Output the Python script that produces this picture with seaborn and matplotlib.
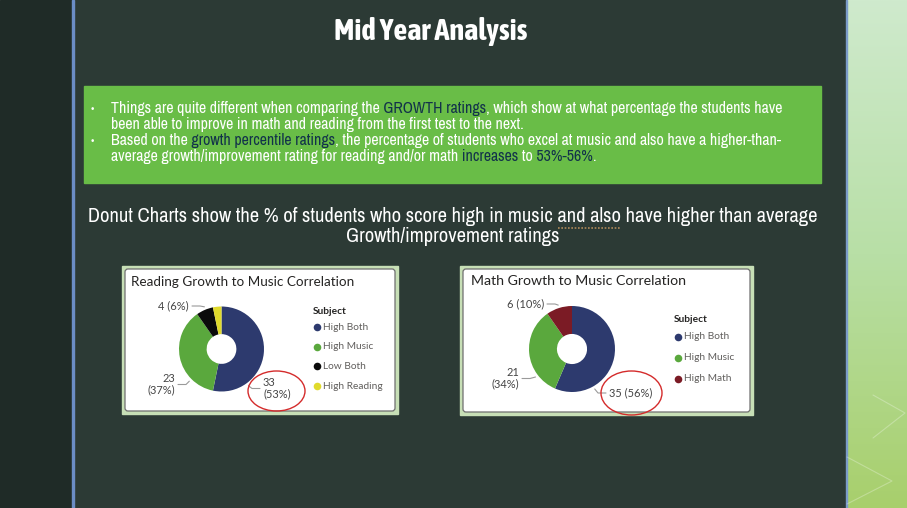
import matplotlib
matplotlib.use("Agg")
import matplotlib.pyplot as plt
import seaborn as sns
import numpy as np
from matplotlib.patches import Rectangle, FancyBboxPatch, Ellipse
from matplotlib import font_manager as fm

# ---------------- data ----------------
slide_title = "Mid Year Analysis"
bullet_lines = [
    [("Things are quite different when comparing the ", "w"), ("GROWTH ratings", "d"),
     (", which show at what percentage the students have", "w")],
    [("been able to improve in math and reading from the first test to the next.", "w")],
    [("Based on the ", "w"), ("growth percentile ratings", "d"),
     (", the percentage of students who excel at music and also have a higher-than-", "w")],
    [("average growth/improvement rating for reading and/or math ", "w"), ("increases", "d"),
     (" to ", "w"), ("53%-56%", "d"), (".", "w")],
]
bullet_marks = [True, False, True, False]
subtitle_lines = ["Donut Charts show the % of students who score high in music and also have higher than average",
                  "Growth/improvement ratings"]

reading_title = "Reading Growth to Music Correlation"
reading_labels = ["High Both", "High Music", "Low Both", "High Reading"]
reading_counts = [33, 23, 4, 2]

math_title = "Math Growth to Music Correlation"
math_labels = ["High Both", "High Music", "High Math"]
math_counts = [35, 21, 6]

legend_title = "Subject"

# ---------------- style ----------------
sns.set_theme(style="white")
names = {f.name for f in fm.fontManager.ttflist}
narrow = next((n for n in ["Liberation Sans Narrow", "Arial Narrow", "Archivo Narrow"] if n in names), None)
slide_font = ([narrow] if narrow else []) + ["Liberation Sans", "DejaVu Sans"]
bold_narrow = next((n for n in ["Liberation Sans Narrow", "Arial Narrow", "Asap Condensed"] if n in names), None)
title_font = ([bold_narrow] if bold_narrow else []) + ["Liberation Sans", "DejaVu Sans"]
panel_font = ["Lato", "DejaVu Sans"]
plt.rcParams["font.family"] = slide_font

reading_colors = sns.color_palette(["#2d3a6e", "#5aa83d", "#0b0b0b", "#e0da2c"])
math_colors = sns.color_palette(["#2d3a6e", "#5aa83d", "#7b1b25"])
TXT_W = "#ffffff"
TXT_D = "#12324a"

W, H = 907, 508
fig = plt.figure(figsize=(W / 100, H / 100), dpi=100)
bg = fig.add_axes([0, 0, 1, 1])
bg.set_xlim(0, W)
bg.set_ylim(H, 0)
bg.axis("off")
fig.canvas.draw()
renderer = fig.canvas.get_renderer()


def inkw(s, size, **kw):
    t = bg.text(0, 0, s, fontsize=size, **kw)
    w = t.get_window_extent(renderer).width
    t.remove()
    return w


def twidth(s, size, **kw):
    return inkw("|" + s + "|", size, **kw) - inkw("||", size, **kw)


def fit(s, target, **kw):
    return 10 * target / inkw(s, 10, **kw)


# ---------------- background ----------------
bg.add_patch(Rectangle((0, 0), 72, H, color="#1f2b27", zorder=0))
bg.add_patch(Rectangle((72, 0), 774, H, color="#2c3a35", zorder=0))
bg.add_patch(Rectangle((71.5, 0), 2.2, H, color="#6b8dc5", zorder=1))
bg.add_patch(Rectangle((845.5, 0), 1.8, H, color="#7b9bc9", zorder=1))
c_top = np.array([0xcf, 0xea, 0xcd]) / 255
c_mid = np.array([0xb8, 0xdf, 0xa6]) / 255
c_bot = np.array([0xa8, 0xcf, 0x6c]) / 255
rows = []
for g in np.linspace(0, 1, 256):
    rows.append(c_top + (c_mid - c_top) * g / 0.5 if g < 0.5 else c_mid + (c_bot - c_mid) * (g - 0.5) / 0.5)
img = np.array(rows)[:, None, :]
bg.imshow(img, extent=(847.3, W, H, 0), aspect="auto", zorder=0.5, interpolation="bilinear")
bg.set_xlim(0, W)
bg.set_ylim(H, 0)
for pts in ([(873, 395), (905, 413), (873, 438)], [(847, 457), (892, 481), (847, 504)]):
    xs, ys = zip(*pts)
    bg.plot(xs, ys, color="white", lw=0.8, alpha=0.28, zorder=1)

# ---------------- title ----------------
ts = fit(slide_title, 192, fontweight="bold", family=title_font)
bg.text(431, 31, slide_title, color="white", fontsize=ts, fontweight="bold", family=title_font,
        ha="center", va="center", zorder=3)

# ---------------- green bullet box ----------------
bg.add_patch(Rectangle((84, 86), 737, 97, color="#69bd47", zorder=2))
full1 = "".join(s for s, _ in bullet_lines[0])
bsize = fit(full1, 673)
line_y = [109, 125, 141, 157]


def colored_line(x0, y, segs, size):
    full = "".join(s for s, _ in segs)
    probe = bg.text(x0, y, full, fontsize=size, ha="left", va="center")
    left = probe.get_window_extent(renderer).x0
    probe.remove()
    bounds = [-1e4]
    prefix = ""
    for i, (s, _) in enumerate(segs[:-1]):
        prefix += s
        nxt = segs[i + 1][0]
        end = left + inkw(prefix.rstrip(), size)
        gap = 1.5 if (prefix.endswith(" ") or nxt.startswith(" ")) else 0.7
        bounds.append(end + gap)
    bounds.append(1e4)
    for i, (s, c) in enumerate(segs):
        t = bg.text(x0, y, full, color=TXT_W if c == "w" else TXT_D, fontsize=size,
                    ha="left", va="center", zorder=3, clip_on=True)
        clip = Rectangle((bounds[i], y - 14), bounds[i + 1] - bounds[i], 28, transform=bg.transData)
        t.set_clip_path(clip)


for segs, mark, y in zip(bullet_lines, bullet_marks, line_y):
    if mark:
        bg.text(91, y, "•", color="white", fontsize=bsize * 0.75, ha="left", va="center", zorder=3)
    colored_line(111, y, segs, bsize)

# ---------------- subtitle ----------------
ssize = fit(subtitle_lines[0], 731)
bg.text(453, 216, subtitle_lines[0], color="white", fontsize=ssize, ha="center", va="center", zorder=3)
bg.text(453, 236, subtitle_lines[1], color="white", fontsize=ssize, ha="center", va="center", zorder=3)
full_w = inkw(subtitle_lines[0], ssize)
pre = subtitle_lines[0].split("and also")[0]
ux0 = 453 - full_w / 2 + twidth(pre, ssize)
ux1 = ux0 + inkw("and also", ssize)
bg.plot([ux0, ux1], [227.5, 227.5], color="#b08a5a", lw=1.2, ls=(0, (1, 1)), zorder=3)


# ---------------- donut panels ----------------
def panel(box, title, title_w, title_xy):
    x0, y0, x1, y1 = box
    bg.add_patch(Rectangle((x0, y0), x1 - x0, y1 - y0, color="#c7dfb6", zorder=2))
    bg.add_patch(FancyBboxPatch((x0 + 3, y0 + 3), x1 - x0 - 6, y1 - y0 - 6,
                                boxstyle="round,pad=0,rounding_size=3",
                                facecolor="white", edgecolor="#6f6f6f", lw=0.9, zorder=2.5))
    fs = fit(title, title_w, family=panel_font)
    bg.text(title_xy[0], title_xy[1], title, color="#252423", fontsize=fs, family=panel_font,
            ha="left", va="center", zorder=3)


def donut(cx, cy, r, counts, colors, labels_layout, legend_xy, legend_labels, legend_gap, lsize):
    ax = fig.add_axes([(cx - 50) / W, 1 - (cy + 50) / H, 100 / W, 100 / H])
    ax.pie(counts, colors=colors, startangle=90, counterclock=False, radius=r / 50,
           wedgeprops=dict(width=(r / 50) * 0.65, linewidth=0))
    ax.set_xlim(-1, 1)
    ax.set_ylim(-1, 1)
    ax.axis("off")
    total = sum(counts)
    cum = np.concatenate([[0], np.cumsum(counts)])
    for i, lay in enumerate(labels_layout):
        if lay is None:
            continue
        frac, tx, ty, ha, two = lay
        pct = round(100 * counts[i] / total)
        label = f"{counts[i]}\n({pct}%)" if two else f"{counts[i]} ({pct}%)"
        theta = 360 * (cum[i] + frac * counts[i]) / total
        phi = np.deg2rad(90 - theta)
        px, py = cx + (r + 3) * np.cos(phi), cy - (r + 3) * np.sin(phi)
        if ha == "left":
            ex, sx = tx - 11, tx - 3
        else:
            ex, sx = tx + 11, tx + 3
        bg.plot([px, ex, sx], [py, ty, ty], color="#9a9a9a", lw=0.8, zorder=3)
        bg.text(tx, ty, label, fontsize=lsize, family=panel_font, color="#444444",
                ha=ha, va="center", multialignment=ha, linespacing=1.05, zorder=3)
    lx, ly = legend_xy
    bg.text(lx, ly, legend_title, fontsize=lsize * 0.93, family=panel_font, fontweight="bold",
            color="#252423", ha="left", va="center", zorder=3)
    for j, (lab, col) in enumerate(zip(legend_labels, colors)):
        yy = ly + legend_gap[0] + j * legend_gap[1]
        bg.scatter([lx + 4.3], [yy], s=30, color=col, zorder=3, linewidths=0)
        bg.text(lx + 10, yy, lab, fontsize=lsize * 0.93, family=panel_font, color="#605e5c",
                ha="left", va="center", zorder=3)


panel((122, 266, 398, 414), reading_title, 222, (131, 281.5))
panel((460, 266, 753, 415), math_title, 216, (471, 281))

lab_size = fit("35 (56%)", 43, family=panel_font)

donut(221.5, 349, 42.5, reading_counts, reading_colors,
      [(0.75, 263, 388.5, "left", True), (0.25, 175, 384.5, "right", True),
       (0.55, 189, 306, "right", False), None],
      (313, 312), reading_labels, (15, 19.7), lab_size)
donut(572, 349, 43, math_counts, math_colors,
      [(0.74, 609, 393, "left", False), (0.24, 519, 378.5, "right", True),
       (0.5, 544, 304, "right", False)],
      (674, 319), math_labels, (17.5, 21), lab_size)

bg.add_patch(Ellipse((276.5, 391), 57, 40, fill=False, edgecolor="#d42b2b", lw=1.0, zorder=4))
bg.add_patch(Ellipse((631.5, 393), 61, 44, fill=False, edgecolor="#d42b2b", lw=1.0, zorder=4))

fig.savefig("out.png", dpi=100)
